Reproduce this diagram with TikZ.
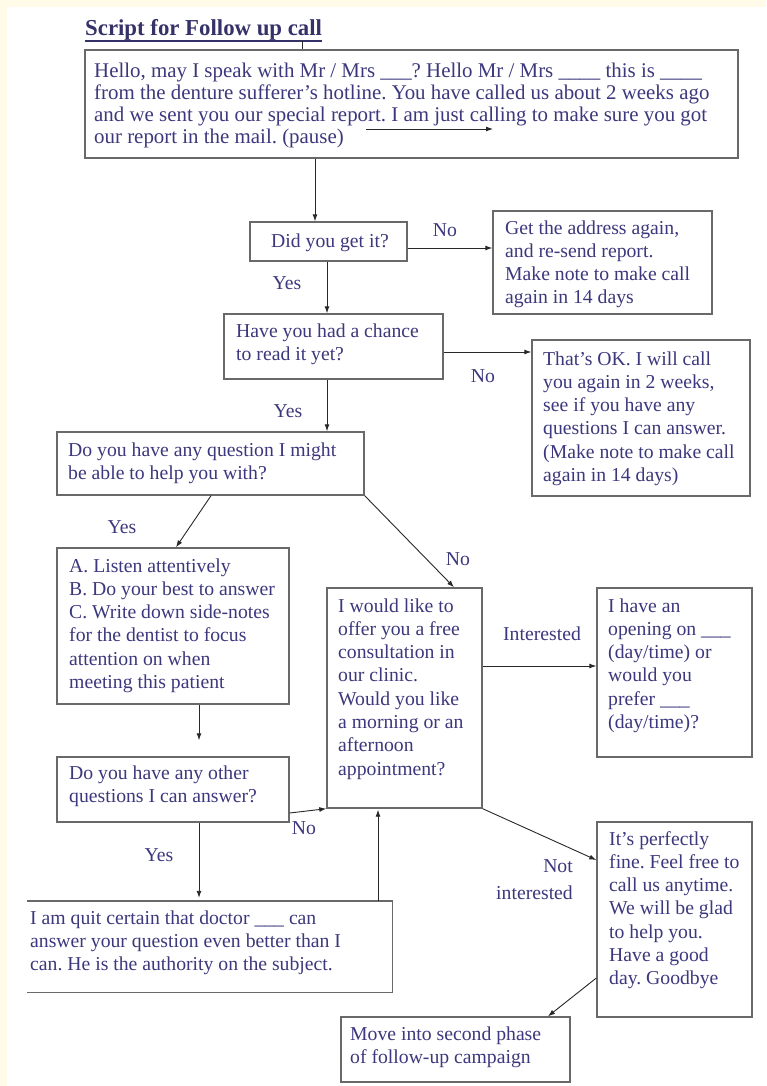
\documentclass[tikz,border=0pt]{standalone}
\usepackage{fontspec}
\setmainfont{Liberation Serif}
\usetikzlibrary{arrows.meta}
\definecolor{txtc}{RGB}{60,56,125}
\definecolor{titlec}{RGB}{52,50,105}
\definecolor{boxc}{RGB}{105,105,105}
\definecolor{arrc}{RGB}{40,40,40}
\definecolor{cream}{RGB}{255,251,232}
\newcommand\mlines[1]{\begin{tabular}[t]{@{}l@{}}#1\end{tabular}}
\newcommand\rlines[1]{\begin{tabular}[t]{@{}r@{}}#1\end{tabular}}
\frenchspacing
\begin{document}
\begin{tikzpicture}[x=1pt,y=-1pt,
  box/.style={draw=boxc, line width=1.4pt, rectangle, inner sep=0pt},
  openbox/.style={rectangle, inner sep=0pt},
  boxline/.style={draw=boxc, line width=1.4pt},
  txt/.style={text=txtc, inner sep=0pt, anchor=base west, font=\fontsize{19.7}{23.3}\selectfont},
  lbl/.style={text=txtc, inner sep=0pt, font=\fontsize{19.7}{23}\selectfont},
  ttl/.style={text=titlec, inner sep=0pt, anchor=base west, font=\bfseries\fontsize{22.8}{26}\selectfont},
  arr/.style={draw=arrc, line width=0.9pt, -{Latex[length=7pt,width=5pt]}},
  ln/.style={draw=arrc, line width=0.9pt}]
\useasboundingbox (0,0) rectangle (766,1086);
\fill[cream] (0,0) rectangle (766,1086);
\fill[white] (7,7) rectangle (766,1086);

% helper coordinates
\coordinate (x315) at (315,0);
\coordinate (x327) at (327,0);
\coordinate (x211) at (211,0);
\coordinate (x176) at (176,0);
\coordinate (x454) at (454,0);
\coordinate (x199) at (199,0);
\coordinate (x378) at (378,0);
\coordinate (y248) at (0,248);
\coordinate (y352) at (0,352);
\coordinate (y666) at (0,666);
\coordinate (y813) at (0,813);
\coordinate (y860) at (0,860);
\coordinate (y978) at (0,978);
\coordinate (x548) at (548,0);

% title
\node[ttl] (title) at (85,36) {Script for Follow up call};
\draw[titlec, line width=1.6pt] ([yshift=-5pt]title.base west) -- ([yshift=-5pt]title.base east);
\coordinate (t1) at (302,41);

% boxes
\node[box, minimum width=653pt, minimum height=108pt] (b1) at (411.5,104) {};
\node[txt, font=\fontsize{20.9}{22}\selectfont] (t_b1) at (94,78) {\mlines{Hello, may I speak with Mr / Mrs \_\_\_? Hello Mr / Mrs \_\_\_\_ this is \_\_\_\_\\
from the denture sufferer's hotline. You have called us about 2 weeks ago\\
and we sent you our special report. I am just calling to make sure you got\\
our report in the mail. (pause)}};
\draw[ln] (t1) -- (t1 |- b1.north);
\coordinate (s1) at (366,129);
\coordinate (s2) at (493,129);
\draw[arr] (s1) -- (s2);

\node[box, minimum width=157pt, minimum height=39pt] (b2) at (328.5,241.5) {};
\node[lbl, anchor=base] (t_b2) at (330,247) {Did you get it?};

\node[box, minimum width=219pt, minimum height=103pt] (b3) at (602.5,262.5) {};
\node[txt] (t_b3) at (505,234) {\mlines{Get the address again,\\ and re-send report.\\ Make note to make call\\ again in 14 days}};

\node[box, minimum width=219pt, minimum height=65pt] (b4) at (333.5,346.5) {};
\node[txt] (t_b4) at (236,337) {\mlines{Have you had a chance\\ to read it yet?}};

\node[box, minimum width=218pt, minimum height=156pt] (b5) at (641,418) {};
\node[txt] (t_b5) at (543,365) {\mlines{That's OK. I will call\\ you again in 2 weeks,\\ see if you have any\\ questions I can answer.\\ (Make note to make call\\ again in 14 days)}};

\node[box, minimum width=307pt, minimum height=63pt] (b6) at (210.5,463.5) {};
\node[txt] (t_b6) at (68,456) {\mlines{Do you have any question I might\\ be able to help you with?}};

\node[box, minimum width=232pt, minimum height=156pt] (b7) at (173,626) {};
\node[txt] (t_b7) at (69,572) {\mlines{A. Listen attentively\\ B. Do your best to answer\\ C. Write down side-notes\\ for the dentist to focus\\ attention on when\\ meeting this patient}};

\node[box, minimum width=155pt, minimum height=220pt] (b8) at (404.5,698) {};
\node[txt] (t_b8) at (338,612) {\mlines{I would like to\\ offer you a free\\ consultation in\\ our clinic.\\ Would you like\\ a morning or an\\ afternoon\\ appointment?}};

\node[box, minimum width=155pt, minimum height=169pt] (b9) at (674.5,672.5) {};
\node[txt] (t_b9) at (608,612) {\mlines{I have an\\ opening on \_\_\_\\ (day/time) or\\ would you\\ prefer \_\_\_\\ (day/time)?}};

\node[box, minimum width=232pt, minimum height=65pt] (b10) at (173,789.5) {};
\node[txt] (t_b10) at (69,779) {\mlines{Do you have any other\\ questions I can answer?}};

\node[openbox, minimum width=365pt, minimum height=91pt] (b11) at (209.5,946.5) {};
\draw[boxline] (b11.north west) -- (b11.north east) -- (b11.south east) -- (b11.south west);
\node[txt] (t_b11) at (30,924) {\mlines{I am quit certain that doctor \_\_\_ can\\ answer your question even better than I\\ can. He is the authority on the subject.}};

\node[box, minimum width=155pt, minimum height=195pt] (b12) at (674.5,919.5) {};
\node[txt] (t_b12) at (609,845) {\mlines{It's perfectly\\ fine. Feel free to\\ call us anytime.\\ We will be glad\\ to help you.\\ Have a good\\ day. Goodbye}};

\node[box, minimum width=229pt, minimum height=65pt] (b13) at (455.5,1049.5) {};
\node[txt] (t_b13) at (350,1040) {\mlines{Move into second phase\\ of follow-up campaign}};

% connectors
\draw[arr] (b1.south -| x315) -- (b2.north -| x315);
\draw[arr] (b2.east |- y248) -- (b3.west |- y248);
\draw[arr] (b2.south -| x327) -- (b4.north -| x327);
\draw[arr] (b4.east |- y352) -- (b5.west |- y352);
\draw[arr] (b4.south -| x327) -- (b6.north -| x327);
\draw[arr] (b6.south -| x211) -- (b7.north -| x176);
\draw[arr] (b6.south east) -- (b8.north -| x454);
\draw[arr] (b8.east |- y666) -- (b9.west |- y666);
\draw[arr, shorten >=16pt] (b7.south -| x199) -- (b10.north -| x199);
\draw[arr] (b10.east |- y813) -- (b8.south west);
\draw[arr, shorten >=3pt] (b10.south -| x199) -- (b11.north -| x199);
\draw[arr, shorten >=1pt] (b11.north -| x378) -- (b8.south -| x378);
\draw[arr] (b8.south east) -- (b12.west |- y860);
\draw[arr] (b12.west |- y978) -- (b13.north -| x548);

% labels
\node[lbl] (l_no1) at (445,230) {No};
\node[lbl] (l_yes1) at (287,283) {Yes};
\node[lbl] (l_no2) at (483,376) {No};
\node[lbl] (l_yes2) at (288,411) {Yes};
\node[lbl] (l_yes3) at (122,527) {Yes};
\node[lbl] (l_no3) at (458,559) {No};
\node[lbl] (l_int) at (542,634) {Interested};
\node[lbl] (l_no4) at (304,828) {No};
\node[lbl] (l_yes4) at (159,855) {Yes};
\node[lbl, anchor=base east] (l_notint) at (573,872) {\rlines{Not\\[4.5pt] interested}};
\end{tikzpicture}
\end{document}
